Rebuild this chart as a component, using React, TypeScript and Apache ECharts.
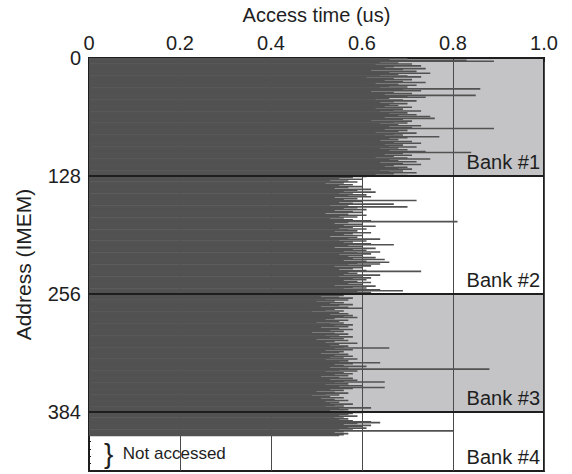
import React, { useEffect, useRef } from "react";
import * as echarts from "echarts";

// Access time (us) per IMEM address, bank by bank
const bank1 = [
  0.70, 0.66, 0.83, 0.89, 0.64, 0.68, 0.71, 0.63, 0.73, 0.67,
  0.65, 0.74, 0.69, 0.62, 0.72, 0.66, 0.75, 0.68, 0.64, 0.70,
  0.73, 0.61, 0.67, 0.71, 0.65, 0.69, 0.74, 0.63, 0.68, 0.72,
  0.66, 0.70, 0.64, 0.86, 0.69, 0.73, 0.62, 0.67, 0.71, 0.65,
  0.85, 0.70, 0.74, 0.66, 0.63, 0.69, 0.72, 0.67, 0.64, 0.70,
  0.66, 0.68, 0.65, 0.71, 0.63, 0.69, 0.67, 0.73, 0.64, 0.70,
  0.66, 0.72, 0.68, 0.75, 0.65, 0.76, 0.69, 0.62, 0.71, 0.67,
  0.70, 0.64, 0.68, 0.73, 0.66, 0.71, 0.89, 0.65, 0.70, 0.68,
  0.63, 0.72, 0.67, 0.69, 0.65, 0.77, 0.70, 0.66, 0.68, 0.64,
  0.71, 0.67, 0.73, 0.65, 0.69, 0.66, 0.72, 0.68, 0.64, 0.70,
  0.66, 0.74, 0.84, 0.69, 0.65, 0.71, 0.67, 0.63, 0.70, 0.75,
  0.66, 0.68, 0.72, 0.64, 0.69, 0.73, 0.67, 0.65, 0.70, 0.68,
  0.71, 0.64, 0.69, 0.66, 0.72, 0.67, 0.63, 0.70,
];
const bank2 = [
  0.61, 0.58, 0.55, 0.60, 0.53, 0.57, 0.59, 0.56, 0.52, 0.58,
  0.55, 0.60, 0.57, 0.54, 0.62, 0.59, 0.56, 0.63, 0.58, 0.55,
  0.61, 0.57, 0.62, 0.54, 0.59, 0.56, 0.72, 0.60, 0.55, 0.58,
  0.67, 0.57, 0.53, 0.70, 0.59, 0.56, 0.61, 0.54, 0.58, 0.60,
  0.52, 0.57, 0.61, 0.55, 0.59, 0.56, 0.53, 0.58, 0.62, 0.81,
  0.57, 0.54, 0.60, 0.56, 0.63, 0.58, 0.55, 0.61, 0.57, 0.59,
  0.54, 0.62, 0.58, 0.56, 0.60, 0.53, 0.59, 0.57, 0.64, 0.55,
  0.61, 0.58, 0.56, 0.62, 0.67, 0.57, 0.60, 0.54, 0.63, 0.58,
  0.61, 0.56, 0.64, 0.59, 0.62, 0.55, 0.60, 0.57, 0.63, 0.58,
  0.65, 0.56, 0.61, 0.66, 0.59, 0.64, 0.57, 0.62, 0.54, 0.60,
  0.58, 0.55, 0.61, 0.73, 0.57, 0.59, 0.56, 0.64, 0.60, 0.55,
  0.62, 0.58, 0.61, 0.56, 0.59, 0.62, 0.57, 0.60, 0.54, 0.63,
  0.58, 0.61, 0.56, 0.64, 0.69, 0.59, 0.62, 0.57,
];
const bank3 = [
  0.53, 0.56, 0.51, 0.55, 0.58, 0.52, 0.57, 0.54, 0.50, 0.56,
  0.53, 0.58, 0.55, 0.51, 0.57, 0.60, 0.54, 0.52, 0.56, 0.49,
  0.55, 0.57, 0.53, 0.58, 0.56, 0.59, 0.54, 0.52, 0.57, 0.55,
  0.50, 0.56, 0.53, 0.58, 0.54, 0.57, 0.51, 0.55, 0.58, 0.53,
  0.56, 0.49, 0.54, 0.57, 0.52, 0.55, 0.58, 0.53, 0.56, 0.50,
  0.57, 0.54, 0.52, 0.59, 0.55, 0.53, 0.57, 0.56, 0.66, 0.54,
  0.58, 0.52, 0.56, 0.55, 0.51, 0.57, 0.54, 0.58, 0.53, 0.56,
  0.59, 0.52, 0.57, 0.55, 0.64, 0.58, 0.54, 0.56, 0.61, 0.53,
  0.57, 0.88, 0.55, 0.59, 0.52, 0.56, 0.58, 0.54, 0.57, 0.51,
  0.55, 0.58, 0.53, 0.59, 0.56, 0.65, 0.54, 0.57, 0.52, 0.60,
  0.55, 0.65, 0.58, 0.53, 0.56, 0.50, 0.54, 0.57, 0.52, 0.55,
  0.49, 0.53, 0.56, 0.51, 0.54, 0.57, 0.52, 0.55, 0.53, 0.58,
  0.54, 0.56, 0.52, 0.62, 0.55, 0.57, 0.53, 0.56,
];
const bank4 = [
  0.60, 0.58, 0.57, 0.55, 0.59, 0.56, 0.54, 0.57, 0.55, 0.58,
  0.62, 0.64, 0.59, 0.56, 0.62, 0.60, 0.57, 0.61, 0.55, 0.58,
  0.80, 0.56, 0.54, 0.57, 0.56, 0.55,
];

const addressCount = 448;
const bankStarts = [0, 128, 256, 384];
const bankNames = ["Bank #1", "Bank #2", "Bank #3", "Bank #4"];
const bankShaded = [true, false, true, false];
const bankLines = [128, 256, 384];
const notAccessedLabel = "Not accessed";

export default function App() {
  const ref = useRef<HTMLDivElement>(null);

  useEffect(() => {
    const chart = echarts.init(ref.current!, null, { renderer: "svg" });
    const values = [...bank1, ...bank2, ...bank3, ...bank4];
    const addresses = Array.from({ length: addressCount }, (_, i) => String(i));
    const data = addresses.map((_, i) => (i < values.length ? values[i] : null));
    const font = "'Liberation Sans', Arial, sans-serif";
    const ink = "#1e1e1e";

    const areas: any[] = bankStarts.map((s, i) => [
      {
        yAxis: s,
        name: bankNames[i],
        itemStyle: { color: bankShaded[i] ? "#c4c4c6" : "rgba(0,0,0,0)" },
      },
      { yAxis: i + 1 < bankStarts.length ? bankStarts[i + 1] : addressCount },
    ]);
    areas.push([
      {
        yAxis: values.length,
        itemStyle: { color: "rgba(0,0,0,0)" },
        label: {
          show: true,
          position: "insideLeft",
          distance: 15,
          formatter: "}{t|  " + notAccessedLabel + "}",
          fontSize: 28,
          fontFamily: font,
          color: ink,
          rich: { t: { fontSize: 17, fontFamily: font, color: ink, verticalAlign: "middle" } },
        },
      },
      { yAxis: addressCount },
    ]);

    chart.setOption({
      animation: false,
      grid: {
        left: 89,
        right: 28,
        top: 58,
        bottom: 3,
        show: true,
        borderColor: ink,
        borderWidth: 2,
        backgroundColor: "rgba(0,0,0,0)",
      },
      xAxis: {
        type: "value",
        position: "top",
        min: 0,
        max: 1,
        interval: 0.2,
        z: 0,
        name: "Access time (us)",
        nameLocation: "middle",
        nameGap: 33,
        nameTextStyle: { fontSize: 20, color: ink, fontFamily: font },
        axisLine: { show: true, lineStyle: { color: ink, width: 2 } },
        axisTick: { show: true, inside: true, length: 4, lineStyle: { color: ink } },
        axisLabel: {
          fontSize: 20,
          color: ink,
          fontFamily: font,
          margin: 5,
          formatter: (v: number) => (v === 0 ? "0" : v.toFixed(1)),
        },
        splitLine: { show: true, lineStyle: { color: "#4a4a4a", width: 1 } },
      },
      yAxis: [
        { type: "category", data: addresses, inverse: true, show: false },
        {
          type: "value",
          inverse: true,
          min: 0,
          max: addressCount,
          interval: 128,
          position: "left",
          name: "Address (IMEM)",
          nameLocation: "middle",
          nameGap: 55,
          nameTextStyle: { fontSize: 21, color: ink, fontFamily: font },
          axisLine: { show: true, lineStyle: { color: ink, width: 2 } },
          axisTick: { show: true, inside: true, length: 4, lineStyle: { color: ink } },
          minorTick: { show: true, splitNumber: 16, length: 2, lineStyle: { color: ink } },
          axisLabel: {
            fontSize: 20,
            color: ink,
            fontFamily: font,
            margin: 8,
            showMaxLabel: false,
          },
          splitLine: { show: false },
        },
      ],
      series: [
        {
          type: "line",
          yAxisIndex: 1,
          data: [],
          z: -1,
          silent: true,
          markArea: {
            silent: true,
            z: -1,
            label: {
              show: true,
              position: "insideBottomRight",
              distance: 4,
              fontSize: 20,
              color: ink,
              fontFamily: font,
            },
            data: areas,
          },
        },
        {
          type: "bar",
          yAxisIndex: 0,
          data,
          barWidth: 1.6,
          itemStyle: { color: "#525252" },
          z: 2,
        },
        {
          type: "line",
          yAxisIndex: 1,
          data: [],
          z: 5,
          silent: true,
          markLine: {
            silent: true,
            symbol: "none",
            label: { show: false },
            lineStyle: { color: ink, width: 2, type: "solid" },
            data: bankLines.map((y) => ({ yAxis: y })),
          },
        },
      ],
    });
    return () => chart.dispose();
  }, []);

  return (
    <div
      ref={ref}
      style={{ position: "absolute", left: 0, top: 0, width: 572, height: 474, background: "#fff" }}
    />
  );
}
